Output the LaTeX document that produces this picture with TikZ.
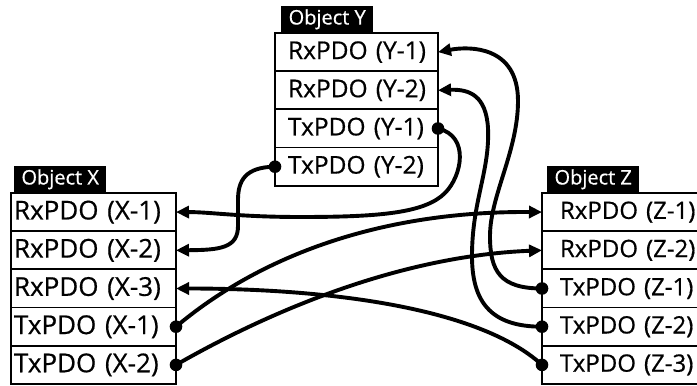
\documentclass[tikz,border=0pt]{standalone}
\usepackage{fontspec}
\setmainfont{Open Sans}[FakeBold=0.6]
\usetikzlibrary{arrows.meta}
\newcommand\tabfont{\fontsize{20}{22}\selectfont}

\begin{document}
\begin{tikzpicture}[x=1pt,y=1pt,
  row/.style={draw, line width=1.8pt, minimum height=38.2pt, inner ysep=0pt,
    outer sep=0pt, align=left},
  xrow/.style={row, text width=159pt, inner xsep=3pt,
    font=\fontsize{26}{28}\selectfont},
  yrow/.style={row, text width=137pt, inner xsep=13pt,
    font=\fontsize{24.5}{28}\selectfont},
  zrow/.style={row, text width=127pt, inner xsep=18pt,
    font=\fontsize{24}{28}\selectfont},
  tab/.style={fill=black, text=white, font=\tabfont, minimum width=92pt,
    minimum height=27pt, inner sep=0pt, anchor=south west},
  link/.style={line width=3.9pt, -{Triangle[length=13pt,width=12pt]}},
  dotr/.style={radius=6.3pt}
]
\clip (0,0) rectangle (697,386);

% Object Y
\node[tab] (ty) at (281,353) {Object Y};
\node[yrow] (y1) at (356.5,333.9) {\mbox{RxPDO (Y-1)}};
\node[yrow] (y2) at (356.5,295.7) {\mbox{RxPDO (Y-2)}};
\node[yrow] (y3) at (356.5,257.5) {\mbox{TxPDO (Y-1)}};
\node[yrow] (y4) at (356.5,219.3) {\mbox{TxPDO (Y-2)}};

% Object X
\node[tab] (tx) at (14,193) {Object X};
\node[xrow] (x1) at (93.5,173.9) {\mbox{RxPDO (X-1)}};
\node[xrow] (x2) at (93.5,135.7) {\mbox{RxPDO (X-2)}};
\node[xrow] (x3) at (93.5,97.5) {\mbox{RxPDO (X-3)}};
\node[xrow] (x4) at (93.5,59.3) {\mbox{TxPDO (X-1)}};
\node[xrow] (x5) at (93.5,21.1) {\mbox{TxPDO (X-2)}};

% Object Z
\node[tab] (tz) at (547,193) {Object Z};
\node[zrow] (z1) at (623.5,173.9) {\mbox{RxPDO (Z-1)}};
\node[zrow] (z2) at (623.5,135.7) {\mbox{RxPDO (Z-2)}};
\node[zrow] (z3) at (623.5,97.5) {\mbox{TxPDO (Z-1)}};
\node[zrow] (z4) at (623.5,59.3) {\mbox{TxPDO (Z-2)}};
\node[zrow] (z5) at (623.5,21.1) {\mbox{TxPDO (Z-3)}};

% Mappings: dot at the transmitting PDO, arrow at the receiving PDO
\draw[link] (y3.east) .. controls (470,250) and (462,210) .. (445,193)
  .. controls (425,173) and (380,169) .. (300,169)
  .. controls (240,169) and (210,174) .. (x1.east);
\fill[dotr] (y3.east) circle;

\draw[link] (y4.west) .. controls (245,219) and (238,205) .. (238,186)
  -- (238,160) .. controls (238,138) and (220,136) .. (x2.east);
\fill[dotr] (y4.west) circle;

\draw[link] (x4.east) .. controls (260,130) and (380,175) .. (z1.west);
\fill[dotr] (x4.east) circle;

\draw[link] (x5.east) .. controls (270,75) and (400,130) .. (z2.west);
\fill[dotr] (x5.east) circle;

\draw[link] (z5.west) .. controls (480,78) and (330,97.5) .. (x3.east);
\fill[dotr] (z5.west) circle;

\draw[link] (z3.west) .. controls (500,97.5) and (490,115) .. (490,150)
  .. controls (490,190) and (518,235) .. (518,285)
  .. controls (518,340) and (470,340) .. (y1.east);
\fill[dotr] (z3.west) circle;

\draw[link] (z4.west) .. controls (490,59.3) and (472,85) .. (472,130)
  .. controls (472,185) and (490,215) .. (488,258)
  .. controls (486,290) and (470,297) .. (y2.east);
\fill[dotr] (z4.west) circle;
\end{tikzpicture}
\end{document}
